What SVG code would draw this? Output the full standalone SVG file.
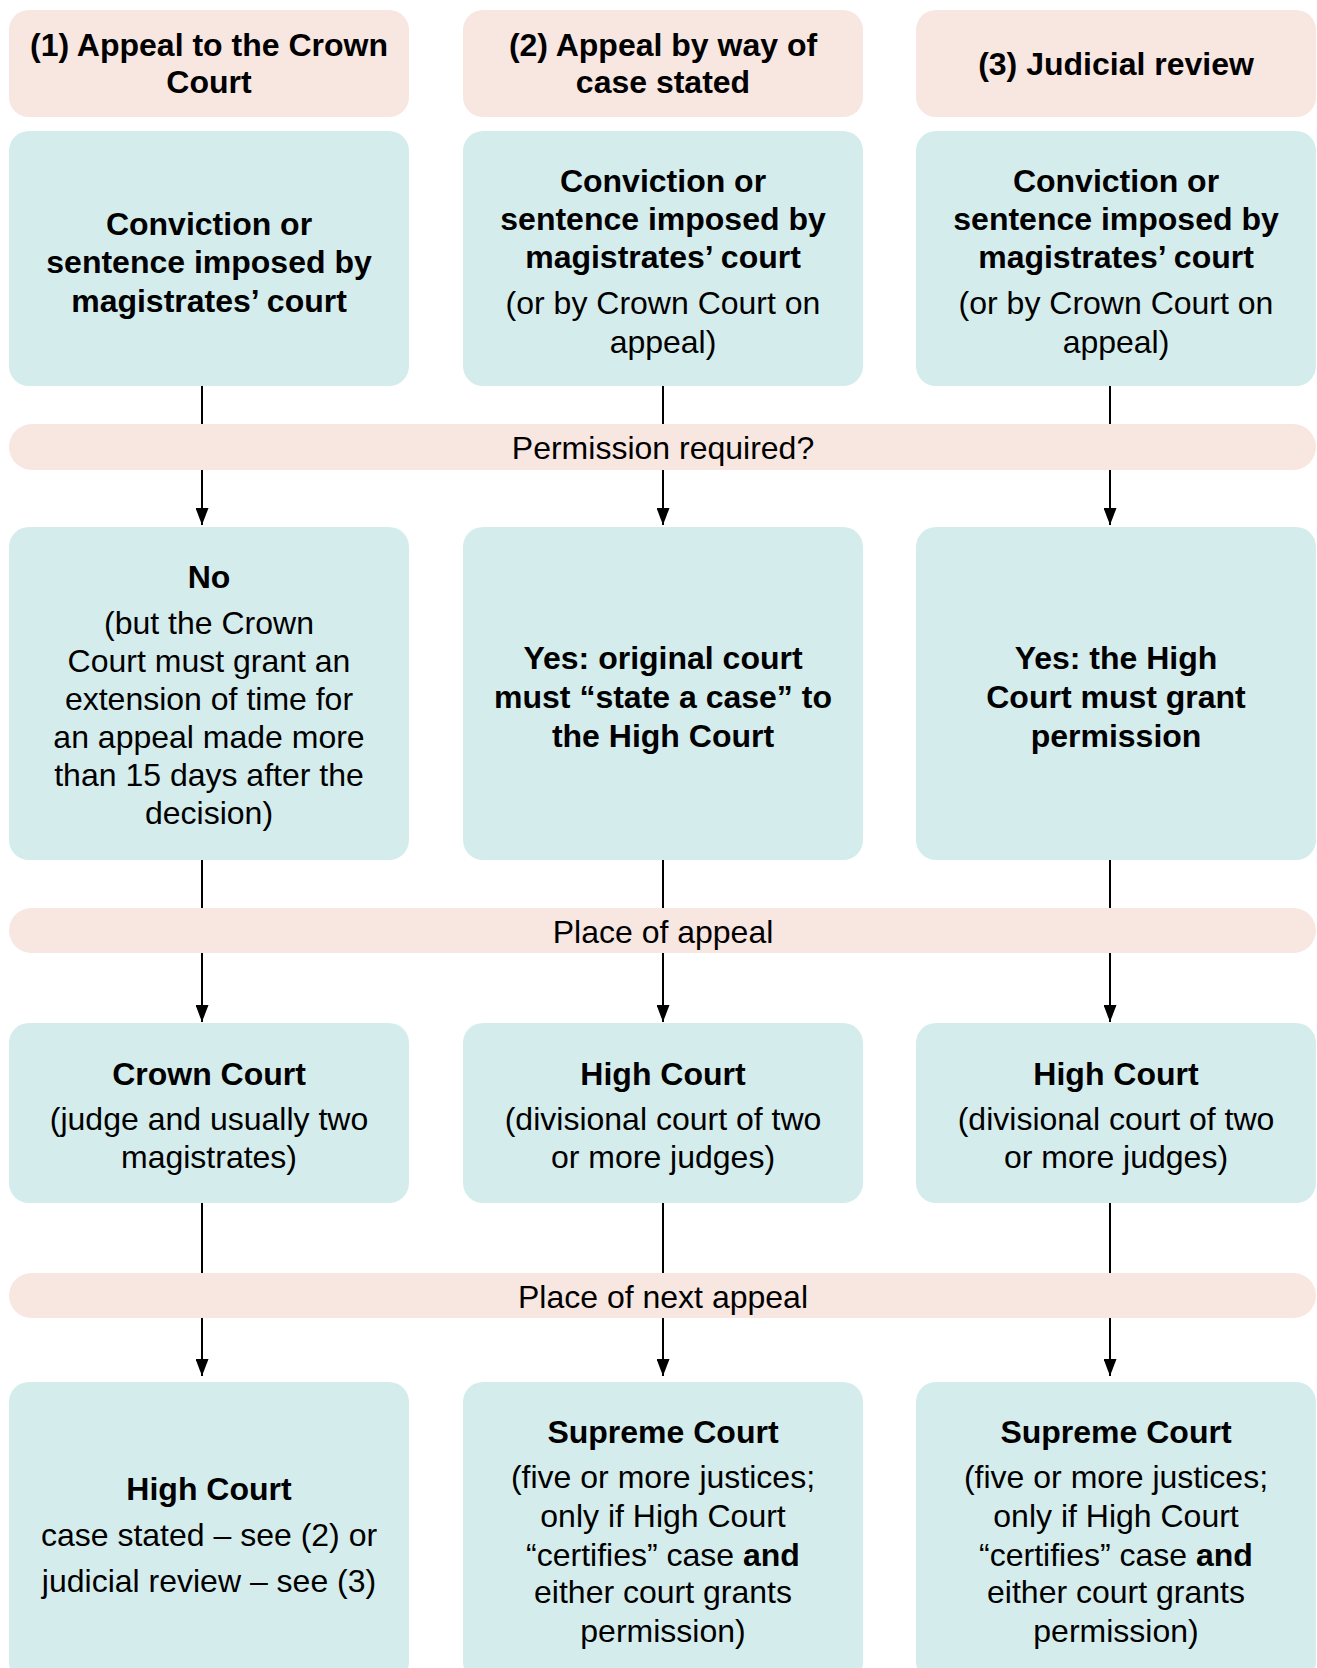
<svg xmlns="http://www.w3.org/2000/svg" width="1317" height="1668" viewBox="0 0 1317 1668">
<defs>
<marker id="ah" viewBox="0 0 17 13" refX="17" refY="6.5" markerWidth="17" markerHeight="13" markerUnits="userSpaceOnUse" orient="auto">
<path d="M0,0 L17,6.5 L0,13 z" fill="#000"/>
</marker>
<style>
.hdr{fill:#F8E6E1}
.box{fill:#D5ECEC}
.band{fill:#F8E6E1}
text{font-family:"Liberation Sans",Arial,Helvetica,sans-serif;font-size:32px;fill:#000;text-anchor:middle}
.b{font-weight:bold}
.conn{stroke:#000;stroke-width:2;fill:none}
</style>
</defs>
<rect width="1317" height="1668" fill="#fff"/>

<g id="connectors">
<path class="conn" d="M202,386 V424"/>
<path class="conn" d="M202,470 V525" marker-end="url(#ah)"/>
<path class="conn" d="M663,386 V424"/>
<path class="conn" d="M663,470 V525" marker-end="url(#ah)"/>
<path class="conn" d="M1110,386 V424"/>
<path class="conn" d="M1110,470 V525" marker-end="url(#ah)"/>
<path class="conn" d="M202,860 V908"/>
<path class="conn" d="M202,953 V1022" marker-end="url(#ah)"/>
<path class="conn" d="M663,860 V908"/>
<path class="conn" d="M663,953 V1022" marker-end="url(#ah)"/>
<path class="conn" d="M1110,860 V908"/>
<path class="conn" d="M1110,953 V1022" marker-end="url(#ah)"/>
<path class="conn" d="M202,1203 V1273"/>
<path class="conn" d="M202,1318 V1376" marker-end="url(#ah)"/>
<path class="conn" d="M663,1203 V1273"/>
<path class="conn" d="M663,1318 V1376" marker-end="url(#ah)"/>
<path class="conn" d="M1110,1203 V1273"/>
<path class="conn" d="M1110,1318 V1376" marker-end="url(#ah)"/>
</g>

<g id="header1">
<rect class="hdr" x="9" y="10" width="400" height="107" rx="20"/>
<text class="b" x="209" y="56">(1) Appeal to the Crown</text>
<text class="b" x="209" y="93">Court</text>
</g>
<g id="header2">
<rect class="hdr" x="463" y="10" width="400" height="107" rx="20"/>
<text class="b" x="663" y="56">(2) Appeal by way of</text>
<text class="b" x="663" y="93">case stated</text>
</g>
<g id="header3">
<rect class="hdr" x="916" y="10" width="400" height="107" rx="20"/>
<text class="b" x="1116" y="75">(3) Judicial review</text>
</g>

<g id="start1">
<rect class="box" x="9" y="131" width="400" height="255" rx="20"/>
<text class="b" x="209" y="235">Conviction or</text>
<text class="b" x="209" y="273">sentence imposed by</text>
<text class="b" x="209" y="312">magistrates’ court</text>
</g>
<g id="start2">
<rect class="box" x="463" y="131" width="400" height="255" rx="20"/>
<text class="b" x="663" y="192">Conviction or</text>
<text class="b" x="663" y="230">sentence imposed by</text>
<text class="b" x="663" y="268">magistrates’ court</text>
<text x="663" y="314">(or by Crown Court on</text>
<text x="663" y="353">appeal)</text>
</g>
<g id="start3">
<rect class="box" x="916" y="131" width="400" height="255" rx="20"/>
<text class="b" x="1116" y="192">Conviction or</text>
<text class="b" x="1116" y="230">sentence imposed by</text>
<text class="b" x="1116" y="268">magistrates’ court</text>
<text x="1116" y="314">(or by Crown Court on</text>
<text x="1116" y="353">appeal)</text>
</g>

<g id="band-permission">
<rect class="band" x="9" y="424" width="1307" height="46" rx="23"/>
<text x="663" y="459">Permission required?</text>
</g>

<g id="perm1">
<rect class="box" x="9" y="527" width="400" height="333" rx="20"/>
<text class="b" x="209" y="588">No</text>
<text x="209" y="634">(but the Crown</text>
<text x="209" y="672">Court must grant an</text>
<text x="209" y="710">extension of time for</text>
<text x="209" y="748">an appeal made more</text>
<text x="209" y="786">than 15 days after the</text>
<text x="209" y="824">decision)</text>
</g>
<g id="perm2">
<rect class="box" x="463" y="527" width="400" height="333" rx="20"/>
<text class="b" x="663" y="669">Yes: original court</text>
<text class="b" x="663" y="708">must “state a case” to</text>
<text class="b" x="663" y="747">the High Court</text>
</g>
<g id="perm3">
<rect class="box" x="916" y="527" width="400" height="333" rx="20"/>
<text class="b" x="1116" y="669">Yes: the High</text>
<text class="b" x="1116" y="708">Court must grant</text>
<text class="b" x="1116" y="747">permission</text>
</g>

<g id="band-place">
<rect class="band" x="9" y="908" width="1307" height="45" rx="22.5"/>
<text x="663" y="943">Place of appeal</text>
</g>

<g id="place1">
<rect class="box" x="9" y="1023" width="400" height="180" rx="20"/>
<text class="b" x="209" y="1085">Crown Court</text>
<text x="209" y="1130">(judge and usually two</text>
<text x="209" y="1168">magistrates)</text>
</g>
<g id="place2">
<rect class="box" x="463" y="1023" width="400" height="180" rx="20"/>
<text class="b" x="663" y="1085">High Court</text>
<text x="663" y="1130">(divisional court of two</text>
<text x="663" y="1168">or more judges)</text>
</g>
<g id="place3">
<rect class="box" x="916" y="1023" width="400" height="180" rx="20"/>
<text class="b" x="1116" y="1085">High Court</text>
<text x="1116" y="1130">(divisional court of two</text>
<text x="1116" y="1168">or more judges)</text>
</g>

<g id="band-next">
<rect class="band" x="9" y="1273" width="1307" height="45" rx="22.5"/>
<text x="663" y="1308">Place of next appeal</text>
</g>

<g id="next1">
<rect class="box" x="9" y="1382" width="400" height="300" rx="20"/>
<text class="b" x="209" y="1500">High Court</text>
<text x="209" y="1546">case stated – see (2) or</text>
<text x="209" y="1592">judicial review – see (3)</text>
</g>
<g id="next2">
<rect class="box" x="463" y="1382" width="400" height="300" rx="20"/>
<text class="b" x="663" y="1443">Supreme Court</text>
<text x="663" y="1488">(five or more justices;</text>
<text x="663" y="1527">only if High Court</text>
<text x="663" y="1566">“certifies” case <tspan class="b">and</tspan></text>
<text x="663" y="1603">either court grants</text>
<text x="663" y="1642">permission)</text>
</g>
<g id="next3">
<rect class="box" x="916" y="1382" width="400" height="300" rx="20"/>
<text class="b" x="1116" y="1443">Supreme Court</text>
<text x="1116" y="1488">(five or more justices;</text>
<text x="1116" y="1527">only if High Court</text>
<text x="1116" y="1566">“certifies” case <tspan class="b">and</tspan></text>
<text x="1116" y="1603">either court grants</text>
<text x="1116" y="1642">permission)</text>
</g>
</svg>
